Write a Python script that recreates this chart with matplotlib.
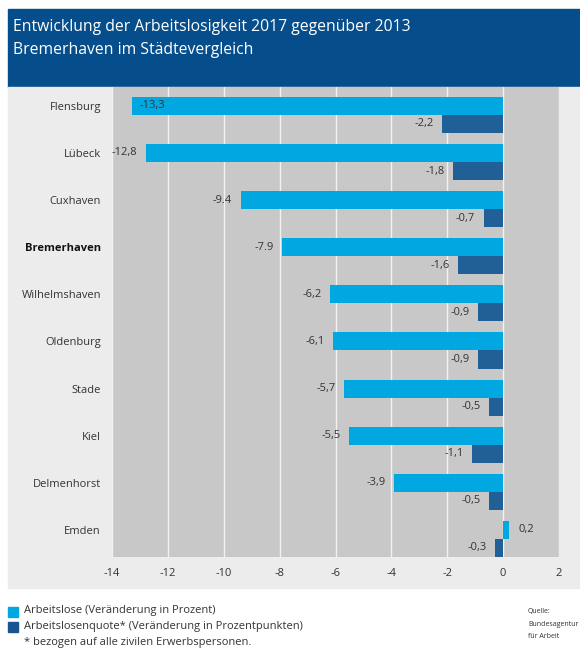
import matplotlib
matplotlib.use("Agg")
from matplotlib import pyplot as plt
from matplotlib.patches import Rectangle
import numpy as np

# data
cities = ["Flensburg", "Lübeck", "Cuxhaven", "Bremerhaven", "Wilhelmshaven",
          "Oldenburg", "Stade", "Kiel", "Delmenhorst", "Emden"]
arbeitslose = [-13.3, -12.8, -9.4, -7.9, -6.2, -6.1, -5.7, -5.5, -3.9, 0.2]
arbeitslose_lbl = ["-13,3", "-12,8", "-9.4", "-7.9", "-6,2", "-6,1", "-5,7",
                   "-5,5", "-3,9", "0,2"]
quote = [-2.2, -1.8, -0.7, -1.6, -0.9, -0.9, -0.5, -1.1, -0.5, -0.3]
quote_lbl = ["-2,2", "-1,8", "-0,7", "-1,6", "-0,9", "-0,9", "-0,5", "-1,1",
             "-0,5", "-0,3"]
xticks = [-14, -12, -10, -8, -6, -4, -2, 0, 2]

LIGHT = "#00a7e0"
DARK = "#215f97"
HEAD = "#054d8b"
TXT = "#333333"
W, H = 580, 648
FS = 8

plt.rcParams["font.family"] = ["Open Sans", "DejaVu Sans"]

fig = plt.figure(figsize=(W / 100, H / 100), dpi=100)
fig.patch.set_facecolor("white")


def fx(x):
    return x / W


def fy(y):
    return 1 - y / H


# header band and grey panel (behind the axes)
fig.patches.append(Rectangle((fx(8), fy(87)), fx(W - 8), 78 / H,
                             transform=fig.transFigure, color=HEAD, zorder=-2))
fig.patches.append(Rectangle((fx(8), fy(588)), fx(W - 8), 501 / H,
                             transform=fig.transFigure, color="#ececec", zorder=-2))

fig.text(fx(13), fy(27), "Entwicklung der Arbeitslosigkeit 2017 gegenüber 2013",
         color="white", fontsize=11.3, va="center", ha="left")
fig.text(fx(13), fy(50), "Bremerhaven im Städtevergleich",
         color="white", fontsize=11.3, va="center", ha="left")

ax = fig.add_axes([fx(112), fy(557), (559 - 112) / W, (557 - 87) / H])
ax.set_zorder(1)
ax.set_facecolor("#c8c8c8")

h = 0.383
y = np.arange(len(cities))
ax.barh(y, arbeitslose, height=h, color=LIGHT, zorder=3)
ax.barh(y + h, quote, height=h, color=DARK, zorder=3)

ax.set_xlim(-14, 2)
ax.set_ylim(9.575, -0.40)
ax.set_xticks(xticks)
ax.set_xticklabels([str(t) for t in xticks])
ax.tick_params(axis="x", length=0, pad=8, labelsize=FS, colors=TXT)
ax.set_yticks(y)
ax.set_yticklabels(cities)
ax.tick_params(axis="y", length=0, pad=8, labelsize=FS, colors=TXT)
for lbl in ax.get_yticklabels():
    if lbl.get_text() == "Bremerhaven":
        lbl.set_fontweight("bold")
        lbl.set_color("#111111")
ax.set_axisbelow(True)
ax.grid(axis="x", color="#f2f2f2", linewidth=1)
ax.grid(axis="y", visible=False)
for s in ax.spines.values():
    s.set_visible(False)

# value labels
for i, (v, t) in enumerate(zip(arbeitslose, arbeitslose_lbl)):
    if v > 0:
        ax.annotate(t, (v, i), xytext=(7, 0), textcoords="offset points",
                    ha="left", va="center", fontsize=FS, color=TXT, zorder=4)
    elif v < -13:
        ax.annotate(t, (v, i), xytext=(6, 0), textcoords="offset points",
                    ha="left", va="center", fontsize=FS, color=TXT, zorder=4)
    else:
        ax.annotate(t, (v, i), xytext=(-6, 0), textcoords="offset points",
                    ha="right", va="center", fontsize=FS, color=TXT, zorder=4)
for i, (v, t) in enumerate(zip(quote, quote_lbl)):
    ax.annotate(t, (v, i + h), xytext=(-6, 0), textcoords="offset points",
                ha="right", va="center", fontsize=FS, color=TXT, zorder=4)

# legend
fig.patches.append(Rectangle((fx(8), fy(617)), 10 / W, 10 / H,
                             transform=fig.transFigure, color=LIGHT))
fig.patches.append(Rectangle((fx(8), fy(632)), 10 / W, 10 / H,
                             transform=fig.transFigure, color="#1a5490"))
fig.text(fx(24), fy(611), "Arbeitslose (Veränderung in Prozent)",
         fontsize=FS, color=TXT, va="center")
fig.text(fx(24), fy(627), "Arbeitslosenquote* (Veränderung in Prozentpunkten)",
         fontsize=FS, color=TXT, va="center")
fig.text(fx(24), fy(643), "* bezogen auf alle zivilen Erwerbspersonen.",
         fontsize=FS, color=TXT, va="center")

fig.text(fx(528), fy(611), "Quelle:", fontsize=5, color=TXT, va="center")
fig.text(fx(528), fy(624), "Bundesagentur", fontsize=5, color=TXT, va="center")
fig.text(fx(528), fy(636), "für Arbeit", fontsize=5, color=TXT, va="center")

fig.savefig("out.png", dpi=100)
